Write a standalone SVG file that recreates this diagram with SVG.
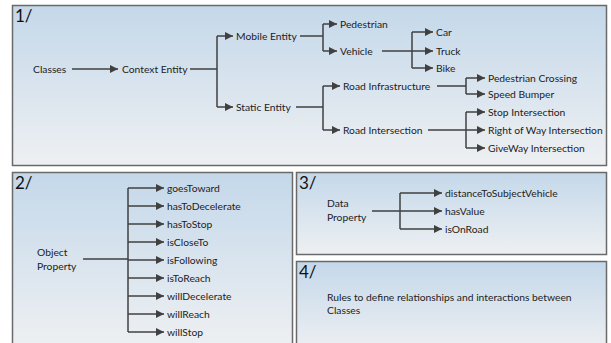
<svg xmlns="http://www.w3.org/2000/svg" width="611" height="343" viewBox="0 0 611 343">
<defs>
<linearGradient id="bg" x1="0" y1="0" x2="0" y2="1">
<stop offset="0" stop-color="#c4d8ea"/>
<stop offset="1" stop-color="#eef0f2"/>
</linearGradient>
<marker id="ah" viewBox="0 0 10 10" refX="10" refY="5" markerWidth="8" markerHeight="8" markerUnits="userSpaceOnUse" orient="auto">
<path d="M0,0 L10,5 L0,10 z" fill="#404040"/>
</marker>
</defs>
<style>
.panel{fill:url(#bg);stroke:#6a6a6a;stroke-width:1.5}
.t{font-family:Lato,"Liberation Sans",sans-serif;font-size:10.3px;fill:#222;dominant-baseline:central}
.n{font-family:Lato,"Liberation Sans",sans-serif;font-size:17px;fill:#111}
.c{fill:none;stroke:#404040;stroke-width:1.5}
.a{fill:none;stroke:#404040;stroke-width:1.5;marker-end:url(#ah)}
</style>
<rect width="611" height="343" fill="#fff"/>
<g id="panel1">
<rect class="panel" x="12.5" y="5.5" width="594" height="160"/>
<text class="n" x="15" y="22">1/</text>
</g>
<g id="panel2">
<rect class="panel" x="12.5" y="172.5" width="280" height="175"/>
<text class="n" x="15" y="189">2/</text>
</g>
<g id="panel3">
<rect class="panel" x="296.5" y="172.5" width="310" height="82"/>
<text class="n" x="299" y="189">3/</text>
</g>
<g id="panel4">
<rect class="panel" x="296.5" y="261.5" width="310" height="90"/>
<text class="n" x="299" y="278">4/</text>
</g>
<g id="nodes">
<g id="classes"><text class="t" x="33" y="69">Classes</text></g>
<g id="context"><text class="t" x="122" y="69">Context Entity</text></g>
<g id="mobile"><text class="t" x="236" y="36">Mobile Entity</text></g>
<g id="static"><text class="t" x="236" y="107">Static Entity</text></g>
<g id="pedestrian"><text class="t" x="340" y="24">Pedestrian</text></g>
<g id="vehicle"><text class="t" x="340" y="51">Vehicle</text></g>
<g id="car"><text class="t" x="436" y="32">Car</text></g>
<g id="truck"><text class="t" x="436" y="51">Truck</text></g>
<g id="bike"><text class="t" x="436" y="68">Bike</text></g>
<g id="roadinfra"><text class="t" x="343" y="86">Road Infrastructure</text></g>
<g id="roadinter"><text class="t" x="343" y="130">Road Intersection</text></g>
<g id="pedcross"><text class="t" x="488" y="78">Pedestrian Crossing</text></g>
<g id="speedbump"><text class="t" x="488" y="94">Speed Bumper</text></g>
<g id="stopint"><text class="t" x="488" y="112">Stop Intersection</text></g>
<g id="rowint"><text class="t" x="488" y="130">Right of Way Intersection</text></g>
<g id="giveway"><text class="t" x="488" y="148">GiveWay Intersection</text></g>
<g id="objprop"><text class="t" x="37" y="252">Object</text><text class="t" x="37" y="266">Property</text></g>
<g id="op1"><text class="t" x="167" y="188">goesToward</text></g>
<g id="op2"><text class="t" x="167" y="206">hasToDecelerate</text></g>
<g id="op3"><text class="t" x="167" y="224">hasToStop</text></g>
<g id="op4"><text class="t" x="167" y="242">isCloseTo</text></g>
<g id="op5"><text class="t" x="167" y="260">isFollowing</text></g>
<g id="op6"><text class="t" x="167" y="278">isToReach</text></g>
<g id="op7"><text class="t" x="167" y="296">willDecelerate</text></g>
<g id="op8"><text class="t" x="167" y="314">willReach</text></g>
<g id="op9"><text class="t" x="167" y="332">willStop</text></g>
<g id="dataprop"><text class="t" x="327" y="203">Data</text><text class="t" x="327" y="217">Property</text></g>
<g id="dp1"><text class="t" x="445" y="193">distanceToSubjectVehicle</text></g>
<g id="dp2"><text class="t" x="445" y="211">hasValue</text></g>
<g id="dp3"><text class="t" x="445" y="229">isOnRoad</text></g>
<g id="rules"><text class="t" x="327" y="297">Rules to define relationships and interactions between</text><text class="t" x="327" y="310">Classes</text></g>
</g>
<g id="connectors">
<path class="a" d="M72,69 H118"/>
<path class="c" d="M190,69 H217 M217,36 V107"/>
<path class="a" d="M217,36 H233"/>
<path class="a" d="M217,107 H233"/>
<path class="c" d="M300,36 H323 M323,24 V51"/>
<path class="a" d="M323,24 H337"/>
<path class="a" d="M323,51 H337"/>
<path class="c" d="M412,32 V68"/>
<path class="a" d="M382,51 H433"/>
<path class="a" d="M412,32 H433"/>
<path class="a" d="M412,68 H433"/>
<path class="c" d="M296,107 H323 M323,86 V130"/>
<path class="a" d="M323,86 H340"/>
<path class="a" d="M323,130 H340"/>
<path class="c" d="M437,86 H466 M466,78 V94"/>
<path class="a" d="M466,78 H485"/>
<path class="a" d="M466,94 H485"/>
<path class="c" d="M466,112 V148"/>
<path class="a" d="M428,130 H485"/>
<path class="a" d="M466,112 H485"/>
<path class="a" d="M466,148 H485"/>
<path class="c" d="M83,259 H128 M128,188 V332"/>
<path class="a" d="M128,188 H164"/>
<path class="a" d="M128,206 H164"/>
<path class="a" d="M128,224 H164"/>
<path class="a" d="M128,242 H164"/>
<path class="a" d="M128,260 H164"/>
<path class="a" d="M128,278 H164"/>
<path class="a" d="M128,296 H164"/>
<path class="a" d="M128,314 H164"/>
<path class="a" d="M128,332 H164"/>
<path class="c" d="M400,193 V229"/>
<path class="a" d="M372,211 H442"/>
<path class="a" d="M400,193 H442"/>
<path class="a" d="M400,229 H442"/>
</g>
</svg>
